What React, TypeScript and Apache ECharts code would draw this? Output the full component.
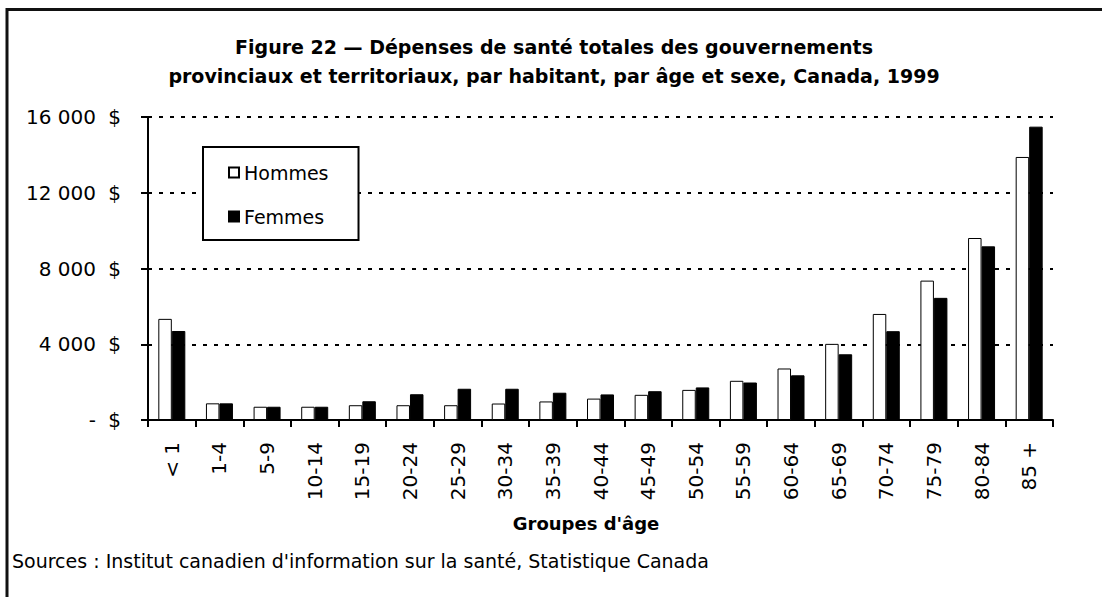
import React, { useEffect, useRef } from 'react';
import * as echarts from 'echarts';

const categories = ['< 1', '1-4', '5-9', '10-14', '15-19', '20-24', '25-29', '30-34', '35-39', '40-44', '45-49', '50-54', '55-59', '60-64', '65-69', '70-74', '75-79', '80-84', '85 +'];
const hommes = [5340, 880, 700, 700, 780, 780, 780, 870, 980, 1130, 1330, 1590, 2070, 2720, 4020, 5600, 7360, 9610, 13890];
const femmes = [4700, 880, 700, 700, 990, 1360, 1650, 1650, 1440, 1350, 1520, 1720, 1980, 2360, 3470, 4690, 6450, 9170, 15490];
const seriesNames = ['Hommes', 'Femmes'];
const yTickValues = [0, 4000, 8000, 12000, 16000];
const yTickLabels = ['-', '4 000', '8 000', '12 000', '16 000'];
const titleLines = [
  'Figure 22 — Dépenses de santé totales des gouvernements',
  'provinciaux et territoriaux, par habitant, par âge et sexe, Canada, 1999',
];
const xAxisTitle = "Groupes d'âge";
const sourceText = "Sources : Institut canadien d'information sur la santé, Statistique Canada";

export default function App() {
  const ref = useRef<HTMLDivElement>(null);
  useEffect(() => {
    const chart = echarts.init(ref.current as HTMLDivElement, null, { renderer: 'svg' });
    const font = 'DejaVu Sans';
    chart.setOption({
      animation: false,
      backgroundColor: '#ffffff',
      textStyle: { fontFamily: font, color: '#000' },
      grid: { left: 148, right: 49, top: 117, bottom: 177, containLabel: false },
      legend: {
        data: seriesNames,
        orient: 'vertical',
        left: 203,
        top: 147,
        icon: 'rect',
        itemWidth: 10,
        itemHeight: 10,
        itemGap: 25,
        padding: [16, 30, 14, 25],
        borderColor: '#000',
        borderWidth: 2,
        borderRadius: 0,
        backgroundColor: '#fff',
        textStyle: { fontFamily: font, fontSize: 19, color: '#000' },
      },
      xAxis: {
        type: 'category',
        data: categories,
        axisLine: { lineStyle: { color: '#000', width: 2 } },
        axisTick: { show: true, length: 7, lineStyle: { color: '#000', width: 2 } },
        axisLabel: { rotate: 90, margin: 22, color: '#000', fontSize: 20, fontFamily: font, interval: 0 },
      },
      yAxis: {
        type: 'value',
        min: 0,
        max: 16000,
        interval: 4000,
        axisLine: { show: true, lineStyle: { color: '#000', width: 2 } },
        axisTick: { show: true, length: 7, lineStyle: { color: '#000', width: 2 } },
        splitLine: { show: true, lineStyle: { color: '#000', width: 2, type: [4, 7] } },
        axisLabel: {
          margin: 27,
          formatter: (v: number) => {
            const i = yTickValues.indexOf(v);
            return `{n|${i >= 0 ? yTickLabels[i] : v}}{d|$}`;
          },
          rich: {
            n: { width: 80, align: 'right', fontSize: 20, color: '#000', fontFamily: font },
            d: { width: 25, align: 'right', fontSize: 20, color: '#000', fontFamily: font },
          },
        },
      },
      series: [
        {
          name: seriesNames[0],
          type: 'bar',
          data: hommes,
          barWidth: 13.5,
          barGap: '0%',
          itemStyle: { color: '#fff', borderColor: '#000', borderWidth: 1 },
        },
        {
          name: seriesNames[1],
          type: 'bar',
          data: femmes,
          barWidth: 13.5,
          barGap: '0%',
          itemStyle: { color: '#000', borderColor: '#000', borderWidth: 1 },
        },
      ],
      graphic: [
        { type: 'line', shape: { x1: 7, y1: 9.5, x2: 1102, y2: 9.5 }, style: { stroke: '#111', lineWidth: 3 } },
        { type: 'line', shape: { x1: 7, y1: 8, x2: 7, y2: 597 }, style: { stroke: '#111', lineWidth: 3 } },
        {
          type: 'text', x: 554, y: 47,
          style: { text: titleLines[0], fontFamily: font, fontWeight: 'bold', fontSize: 19, fill: '#000', textAlign: 'center', textVerticalAlign: 'middle' },
        },
        {
          type: 'text', x: 554, y: 76,
          style: { text: titleLines[1], fontFamily: font, fontWeight: 'bold', fontSize: 19, fill: '#000', textAlign: 'center', textVerticalAlign: 'middle' },
        },
        {
          type: 'text', x: 586, y: 523,
          style: { text: xAxisTitle, fontFamily: font, fontWeight: 'bold', fontSize: 18, fill: '#000', textAlign: 'center', textVerticalAlign: 'middle' },
        },
        {
          type: 'text', x: 12, y: 561,
          style: { text: sourceText, fontFamily: font, fontSize: 19, fill: '#000', textAlign: 'left', textVerticalAlign: 'middle' },
        },
      ],
    });
    return () => chart.dispose();
  }, []);
  return <div ref={ref} style={{ position: 'fixed', left: 0, top: 0, width: 1102, height: 597 }} />;
}
